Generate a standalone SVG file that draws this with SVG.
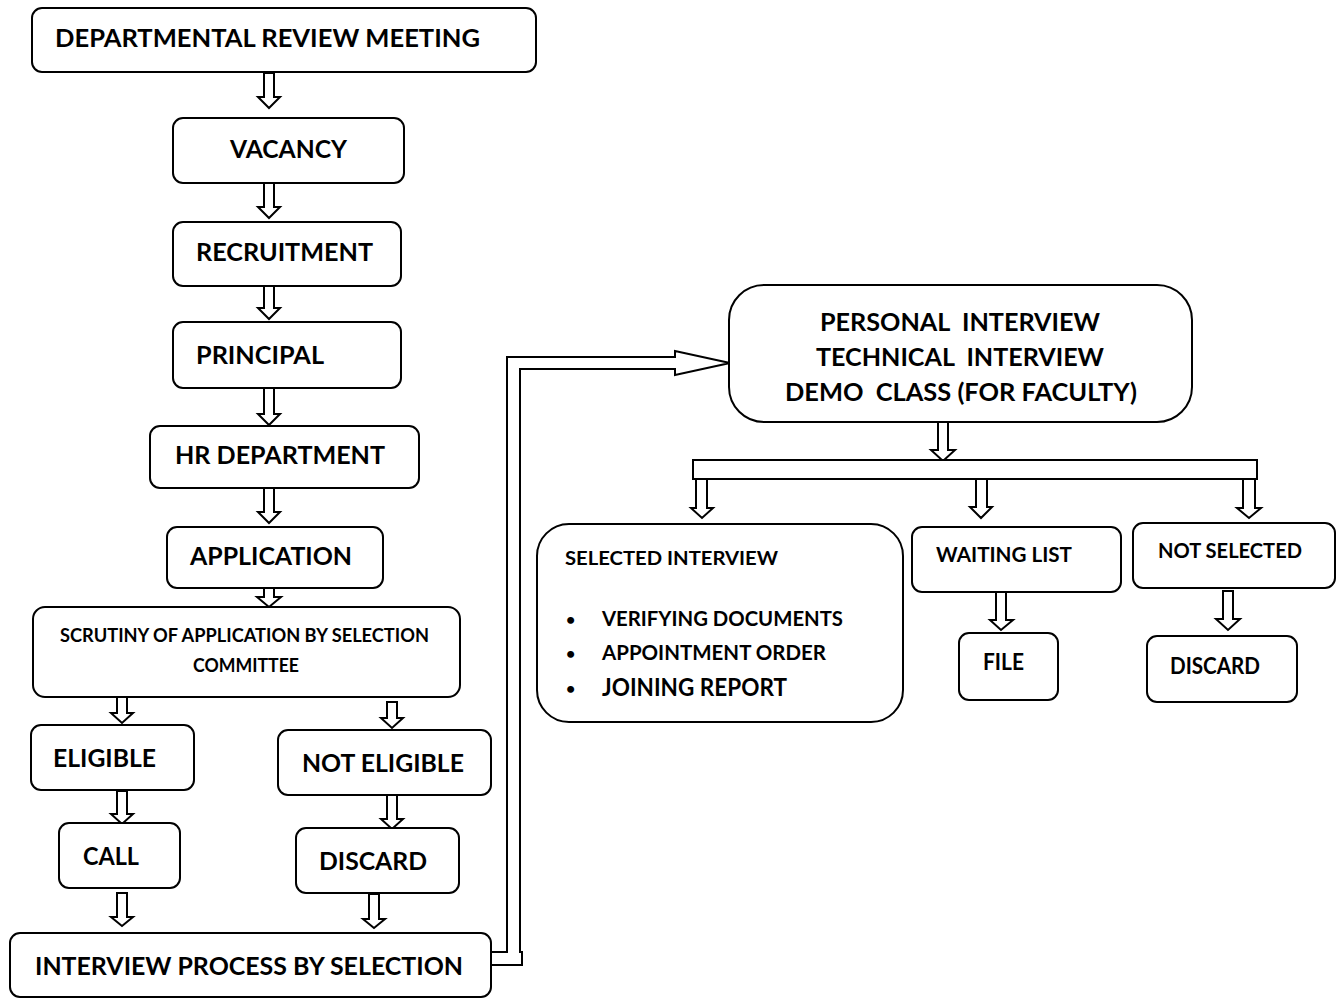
<svg xmlns="http://www.w3.org/2000/svg" width="1336" height="999" viewBox="0 0 1336 999">
<style>
.box{fill:#fff;stroke:#000;stroke-width:2}
.arr{fill:#fff;stroke:#000;stroke-width:2;stroke-linejoin:miter}
.t{font-family:Lato,"Liberation Sans",sans-serif;font-weight:700;fill:#000;font-size:24px}
.s16{font-size:16px}.s18{font-size:18px}.s19{font-size:19px}.s20{font-size:20px}.s21{font-size:21px}.s22{font-size:22px}
</style>
<rect width="1336" height="999" fill="#fff"/>
<g id="connectors">
<path class="arr" d="M264,73 H274 V97 H280 L269,108 L258,97 H264 Z"/>
<path class="arr" d="M264,183 H274 V207 H280 L269,218 L258,207 H264 Z"/>
<path class="arr" d="M264,286 H274 V308 H280 L269,319 L258,308 H264 Z"/>
<path class="arr" d="M264,388 H274 V414 H280 L269,425 L258,414 H264 Z"/>
<path class="arr" d="M264,488 H274 V512 H280 L269,523 L258,512 H264 Z"/>
<path class="arr" d="M264,588 H274 V597 H281 L269,607 L257,597 H264 Z"/>
<path class="arr" d="M117,697 H127 V713 H133 L122,723 L111,713 H117 Z"/>
<path class="arr" d="M387,702 H397 V718 H403 L392,728 L381,718 H387 Z"/>
<path class="arr" d="M117,791 H127 V814 H133 L122,824 L111,814 H117 Z"/>
<path class="arr" d="M387,795 H397 V819 H403 L392,829 L381,819 H387 Z"/>
<path class="arr" d="M117,893 H127 V917 H133 L122,926 L111,917 H117 Z"/>
<path class="arr" d="M369,894 H379 V919 H385 L374,928 L363,919 H369 Z"/>
<path class="arr" d="M507,952 V357 H675 V351 L730,363 L675,375 V369 H520 V952 H522 V965 H491 V952 Z"/>
<path class="arr" d="M938,422 H948 V450 H955 L943,461 L931,450 H938 Z"/>
<rect class="arr" x="693" y="460" width="564" height="19"/>
<path class="arr" d="M696,479 H707 V508 H713 L702,518 L691,508 H696 Z"/>
<path class="arr" d="M976,479 H987 V507 H992 L981,518 L970,507 H976 Z"/>
<path class="arr" d="M1243,479 H1255 V508 H1261 L1249,518 L1237,508 H1243 Z"/>
<path class="arr" d="M996,592 H1006 V620 H1013 L1001,630 L990,620 H996 Z"/>
<path class="arr" d="M1223,591 H1233 V619 H1240 L1228,630 L1216,619 H1223 Z"/>
</g>
<g id="n-meeting"><rect class="box" x="32" y="8" width="504" height="64" rx="10"/><text class="t" x="55" y="47" textLength="425" lengthAdjust="spacingAndGlyphs">DEPARTMENTAL REVIEW MEETING</text></g>
<g id="n-vacancy"><rect class="box" x="173" y="118" width="231" height="65" rx="10"/><text class="t" x="230" y="158" textLength="117" lengthAdjust="spacingAndGlyphs">VACANCY</text></g>
<g id="n-recruitment"><rect class="box" x="173" y="222" width="228" height="64" rx="10"/><text class="t" x="196" y="261" textLength="177" lengthAdjust="spacingAndGlyphs">RECRUITMENT</text></g>
<g id="n-principal"><rect class="box" x="173" y="322" width="228" height="66" rx="10"/><text class="t" x="196" y="364" textLength="128" lengthAdjust="spacingAndGlyphs">PRINCIPAL</text></g>
<g id="n-hr"><rect class="box" x="150" y="426" width="269" height="62" rx="10"/><text class="t" x="175" y="464" textLength="210" lengthAdjust="spacingAndGlyphs">HR DEPARTMENT</text></g>
<g id="n-application"><rect class="box" x="167" y="527" width="216" height="61" rx="10"/><text class="t" x="190" y="565" textLength="162" lengthAdjust="spacingAndGlyphs">APPLICATION</text></g>
<g id="n-scrutiny"><rect class="box" x="33" y="607" width="427" height="90" rx="12"/><text class="t s18" x="60" y="642" textLength="369" lengthAdjust="spacingAndGlyphs">SCRUTINY OF APPLICATION BY SELECTION</text><text class="t s18" x="193" y="672" textLength="106" lengthAdjust="spacingAndGlyphs">COMMITTEE</text></g>
<g id="n-eligible"><rect class="box" x="31" y="725" width="163" height="65" rx="10"/><text class="t" x="53" y="767" textLength="103" lengthAdjust="spacingAndGlyphs">ELIGIBLE</text></g>
<g id="n-noteligible"><rect class="box" x="278" y="730" width="213" height="65" rx="10"/><text class="t" x="302" y="772" textLength="162" lengthAdjust="spacingAndGlyphs">NOT ELIGIBLE</text></g>
<g id="n-call"><rect class="box" x="59" y="823" width="121" height="65" rx="10"/><text class="t" x="83" y="865" textLength="56" lengthAdjust="spacingAndGlyphs">CALL</text></g>
<g id="n-discard1"><rect class="box" x="296" y="828" width="163" height="65" rx="10"/><text class="t" x="319" y="870" textLength="108" lengthAdjust="spacingAndGlyphs">DISCARD</text></g>
<g id="n-interviewprocess"><rect class="box" x="10" y="933" width="481" height="64" rx="10"/><text class="t" x="35" y="975" textLength="428" lengthAdjust="spacingAndGlyphs">INTERVIEW PROCESS BY SELECTION</text></g>
<g id="n-interviews"><rect class="box" x="729" y="285" width="463" height="137" rx="35"/>
<text class="t" x="820" y="331" textLength="280" lengthAdjust="spacingAndGlyphs" xml:space="preserve">PERSONAL  INTERVIEW</text>
<text class="t" x="816" y="366" textLength="288" lengthAdjust="spacingAndGlyphs" xml:space="preserve">TECHNICAL  INTERVIEW</text>
<text class="t" x="785" y="401" textLength="352" lengthAdjust="spacingAndGlyphs" xml:space="preserve">DEMO  CLASS (FOR FACULTY)</text></g>
<g id="n-selected"><rect class="box" x="537" y="524" width="366" height="198" rx="32"/>
<text class="t s19" x="565" y="565" textLength="213" lengthAdjust="spacingAndGlyphs">SELECTED INTERVIEW</text>
<text class="t s16" x="566" y="625">•</text><text class="t s21" x="602" y="626" textLength="241" lengthAdjust="spacingAndGlyphs">VERIFYING DOCUMENTS</text>
<text class="t s16" x="566" y="659">•</text><text class="t s21" x="602" y="660" textLength="224" lengthAdjust="spacingAndGlyphs">APPOINTMENT ORDER</text>
<text class="t s16" x="566" y="694">•</text><text class="t" x="602" y="696" textLength="185" lengthAdjust="spacingAndGlyphs">JOINING REPORT</text></g>
<g id="n-waiting"><rect class="box" x="912" y="527" width="209" height="65" rx="10"/><text class="t s20" x="936" y="562" textLength="136" lengthAdjust="spacingAndGlyphs">WAITING LIST</text></g>
<g id="n-notselected"><rect class="box" x="1133" y="523" width="202" height="65" rx="10"/><text class="t s20" x="1158" y="558" textLength="144" lengthAdjust="spacingAndGlyphs">NOT SELECTED</text></g>
<g id="n-file"><rect class="box" x="959" y="633" width="99" height="67" rx="10"/><text class="t s22" x="983" y="670" textLength="41" lengthAdjust="spacingAndGlyphs">FILE</text></g>
<g id="n-discard2"><rect class="box" x="1147" y="636" width="150" height="66" rx="10"/><text class="t s22" x="1170" y="674" textLength="90" lengthAdjust="spacingAndGlyphs">DISCARD</text></g>
</svg>
